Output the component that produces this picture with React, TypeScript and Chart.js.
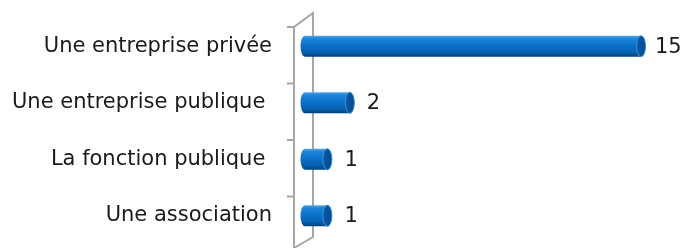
import { useEffect, useRef } from "react";
import { Chart, registerables } from "chart.js";

Chart.register(...registerables);

const categories = [
  "Une entreprise privée",
  "Une entreprise publique ",
  "La fonction publique ",
  "Une association",
];
const values = [15, 2, 1, 1];
const valueLabels = ["15", "2", "1", "1"];

const FONT_FAMILY = "'DejaVu Sans', sans-serif";
const FONT_SIZE = 21;
const TEXT_COLOR = "#1a1a1a";

const cylinderPlugin = {
  id: "cylinders",
  beforeDatasetsDraw(chart: any) {
    const { ctx, chartArea, scales } = chart;
    const yScale = scales.y;
    const frontX = chartArea.left - 11;
    const backX = chartArea.left + 8;
    const top = chartArea.top + 9;
    const backTop = top - 14;
    const backBottom = chartArea.bottom - 7;
    ctx.save();
    ctx.strokeStyle = "#a6a6a6";
    ctx.lineWidth = 2;
    ctx.beginPath();
    ctx.moveTo(frontX, chartArea.bottom + 10);
    ctx.lineTo(frontX, top);
    ctx.lineTo(backX, backTop);
    ctx.lineTo(backX, backBottom);
    ctx.lineTo(frontX, backBottom + 11);
    ctx.stroke();
    const n = categories.length;
    const band = yScale.getPixelForValue(1) - yScale.getPixelForValue(0);
    ctx.beginPath();
    for (let i = 0; i < n; i++) {
      const yb = yScale.getPixelForValue(i) - band / 2 + 9;
      ctx.moveTo(frontX - 7, yb);
      ctx.lineTo(frontX, yb);
    }
    ctx.stroke();
    ctx.restore();
  },
  afterDatasetsDraw(chart: any) {
    const { ctx } = chart;
    const meta = chart.getDatasetMeta(0);
    ctx.save();
    meta.data.forEach((el: any, i: number) => {
      const { x, y, base, height } = el.getProps(["x", "y", "base", "height"], true);
      const ry = height / 2;
      const rx = 4.5;
      const yTop = y - ry;
      const yBot = y + ry;
      const grad = ctx.createLinearGradient(0, yTop, 0, yBot);
      grad.addColorStop(0, "#5aa8ec");
      grad.addColorStop(0.12, "#1f86dc");
      grad.addColorStop(0.45, "#0b72cc");
      grad.addColorStop(0.8, "#0660b0");
      grad.addColorStop(1, "#033f7a");
      ctx.beginPath();
      ctx.moveTo(x, yTop);
      ctx.lineTo(base, yTop);
      ctx.ellipse(base, y, rx, ry, 0, -Math.PI / 2, Math.PI / 2, true);
      ctx.lineTo(x, yBot);
      ctx.ellipse(x, y, rx, ry, 0, Math.PI / 2, -Math.PI / 2, true);
      ctx.closePath();
      ctx.fillStyle = grad;
      ctx.fill();
      const capGrad = ctx.createLinearGradient(x - rx, 0, x + rx, 0);
      capGrad.addColorStop(0, "#0a5aa6");
      capGrad.addColorStop(1, "#07498c");
      ctx.beginPath();
      ctx.ellipse(x, y, rx, ry, 0, 0, Math.PI * 2);
      ctx.fillStyle = capGrad;
      ctx.fill();
      ctx.lineWidth = 1;
      ctx.strokeStyle = "#3f8fd6";
      ctx.stroke();
      ctx.fillStyle = TEXT_COLOR;
      ctx.font = `${FONT_SIZE}px ${FONT_FAMILY}`;
      ctx.textAlign = "left";
      ctx.textBaseline = "middle";
      ctx.fillText(valueLabels[i], x + (values[i] >= 10 ? 14 : 17), y + 1);
    });
    ctx.restore();
  },
};

export default function App() {
  const canvasRef = useRef<HTMLCanvasElement | null>(null);

  useEffect(() => {
    if (!canvasRef.current) return;
    const chart = new Chart(canvasRef.current, {
      type: "bar",
      data: {
        labels: categories,
        datasets: [
          {
            data: values,
            backgroundColor: "rgba(0,0,0,0)",
            borderWidth: 0,
            barThickness: 21,
          },
        ],
      },
      options: {
        indexAxis: "y",
        responsive: false,
        animation: false,
        layout: { padding: { top: 18, bottom: 4, left: 0, right: 45 } },
        plugins: {
          legend: { display: false },
          tooltip: { enabled: false },
        },
        scales: {
          x: { display: false, min: 0, max: 15 },
          y: {
            grid: { display: false, drawTicks: true, tickLength: 33 },
            border: { display: false },
            ticks: {
              color: TEXT_COLOR,
              padding: 0,
              font: { family: FONT_FAMILY, size: FONT_SIZE },
            },
            afterFit: (scale: any) => {
              scale.width = 305;
              scale.paddingTop = 0;
              scale.paddingBottom = 0;
            },
          },
        },
      },
      plugins: [cylinderPlugin],
    });
    return () => chart.destroy();
  }, []);

  return (
    <div style={{ position: "fixed", left: 0, top: 0, width: 686, height: 248, background: "#fff" }}>
      <canvas ref={canvasRef} width={686} height={248} style={{ display: "block" }} />
    </div>
  );
}
